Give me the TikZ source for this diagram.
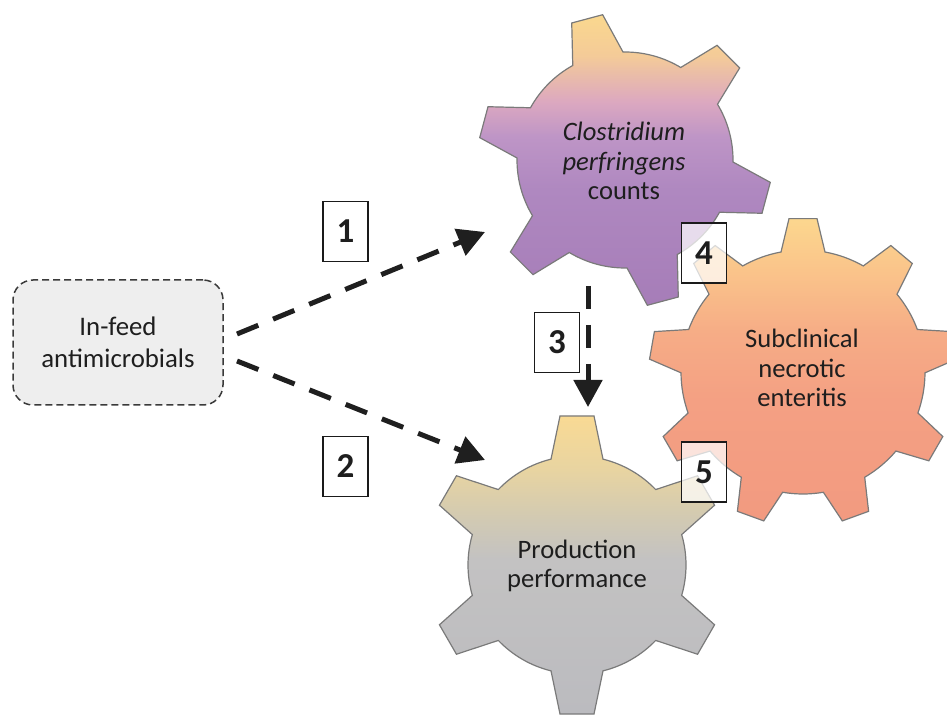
\documentclass[tikz,border=0pt]{standalone}
\usepackage{fontspec}
\setmainfont{Carlito}
\usetikzlibrary{arrows.meta}

% palette
\definecolor{txt}{HTML}{1E1E1E}
\definecolor{gearline}{HTML}{7A7A7A}
\definecolor{arrowc}{HTML}{1F1F1F}
\definecolor{boxline}{HTML}{1A1A1A}
\definecolor{feedfill}{HTML}{EEEEEE}
\definecolor{feedline}{HTML}{3A3A3A}
% purple gear
\definecolor{pA}{HTML}{A67DB8}
\definecolor{pB}{HTML}{AF88C0}
\definecolor{pC}{HTML}{BE95C6}
\definecolor{pD}{HTML}{DCA8C0}
\definecolor{pE}{HTML}{F4CB98}
\definecolor{pF}{HTML}{FAD88E}
% salmon gear
\definecolor{sA}{HTML}{F29A80}
\definecolor{sB}{HTML}{F4A083}
\definecolor{sC}{HTML}{F6AC86}
\definecolor{sD}{HTML}{FAC38A}
\definecolor{sE}{HTML}{FCD78E}
% grey gear
\definecolor{gA}{HTML}{BBBBBF}
\definecolor{gB}{HTML}{C3C2C2}
\definecolor{gC}{HTML}{D2CAB2}
\definecolor{gD}{HTML}{E8D4A1}
\definecolor{gE}{HTML}{F9DA94}

% vertical blends; the path's box spans 25bp..75bp
\pgfdeclareverticalshading{purpleshade}{100bp}{color(0bp)=(pA); color(25bp)=(pA); color(45bp)=(pB); color(54bp)=(pC); color(60bp)=(pD); color(68bp)=(pE); color(75bp)=(pF); color(100bp)=(pF)}
\pgfdeclareverticalshading{salmonshade}{100bp}{color(0bp)=(sA); color(25bp)=(sA); color(45bp)=(sB); color(56bp)=(sC); color(66bp)=(sD); color(75bp)=(sE); color(100bp)=(sE)}
\pgfdeclareverticalshading{greyshade}{100bp}{color(0bp)=(gA); color(25bp)=(gA); color(51bp)=(gB); color(58bp)=(gC); color(66bp)=(gD); color(75bp)=(gE); color(100bp)=(gE)}

% gear outline: #1 style, #2 centre, #3 teeth, #4 first tooth angle,
% #5 body radius, #6 tip radius, #7 base half-width, #8 tip half-width
\newcommand\drawgear[8]{%
  \pgfmathsetmacro\gdb{asin(#7/#5)}%
  \pgfmathsetmacro\gdt{asin(#8/#6)}%
  \pgfmathsetmacro\gstep{360/#3}%
  \begin{scope}[shift={(#2)}]
    \path[shade,#1] (#4-\gdb:#5)
      \foreach \k [evaluate=\k as \ga using #4+(\k-1)*\gstep] in {1,...,#3}{
        -- (\ga-\gdt:#6) -- (\ga+\gdt:#6) -- (\ga+\gdb:#5)
        arc[start angle=\ga+\gdb, end angle=\ga+\gstep-\gdb, radius=#5]
      } -- cycle;
  \end{scope}%
}

\begin{document}
\begin{tikzpicture}[x=0.5pt,y=0.5pt,
  gearedge/.style={draw=gearline, line width=0.6pt},
  gtext/.style={align=center, text=txt, inner sep=0pt, font=\fontsize{13.3}{14.6}\selectfont},
  numbox/.style={draw=boxline, line width=0.9pt, fill=white, minimum width=22.5pt,
    minimum height=30pt, inner sep=0pt, text=txt, font=\bfseries\fontsize{17.5}{20}\selectfont},
  seebox/.style={numbox, fill opacity=0.72, text opacity=1},
  link/.style={draw=arrowc, line width=2.5pt, dash pattern=on 11.5pt off 8pt,
    -{Triangle[length=13.5pt,width=14pt]}},
  feedbox/.style={draw=feedline, line width=0.75pt, dash pattern=on 3.5pt off 2pt,
    fill=feedfill, rounded corners=10pt, minimum width=105pt, minimum height=62.5pt,
    inner sep=0pt, align=center, text=txt, font=\fontsize{13.4}{15.8}\selectfont}
]
\useasboundingbox (0,0) rectangle (947,718);
\clip (0,0) rectangle (947,718);

% gears
\drawgear{gearedge, shading=greyshade}{577,153}{6}{90}{109}{150}{26}{17}
\drawgear{gearedge, shading=salmonshade}{803,346}{9}{90}{122}{154}{22}{14}
\drawgear{gearedge, shading=purpleshade}{625,558}{6}{105}{108}{147}{26}{16}

\node[gtext] (cp) at (624,557) {\textit{Clostridium}\\\textit{perfringens}\\counts};
\node[gtext] (sne) at (802,350) {Subclinical\\necrotic\\enteritis};
\node[gtext] (pp) at (577,152) {Production\\performance};

% source box
\node[feedbox] (feed) at (118,375.5) {In-feed\\antimicrobials};

% arrow ends
\coordinate (s1) at (237,384); \coordinate (t1) at (485,486);
\coordinate (s2) at (237,357); \coordinate (t2) at (485,258);
\coordinate (s3) at (588,432); \coordinate (t3) at (588,311);

\draw[link] (s1) -- (t1);
\draw[link] (s2) -- (t2);
\draw[link] (s3) -- (t3);

% numbered labels
\node[numbox] (n1) at (345.5,486.5) {1};
\node[numbox] (n2) at (345.5,251.5) {2};
\node[numbox] (n3) at (557,375.5) {3};
\node[seebox] (n4) at (704,465) {4};
\node[seebox] (n5) at (704,246) {5};
\end{tikzpicture}
\end{document}
